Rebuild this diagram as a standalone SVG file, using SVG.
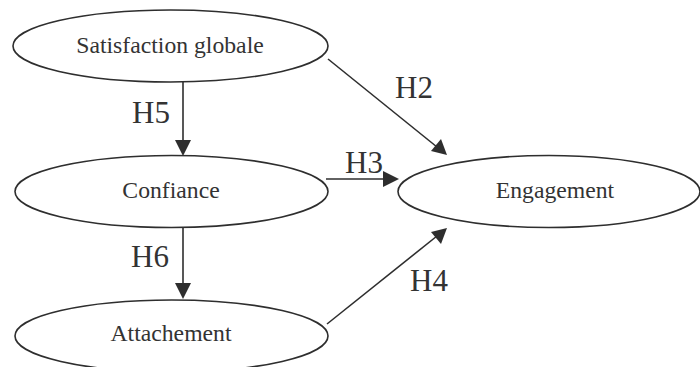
<svg xmlns="http://www.w3.org/2000/svg" width="700" height="367" viewBox="0 0 700 367">
<defs>
<style>
.node ellipse{fill:#fff;stroke:#2e2e2e;stroke-width:1.6}
.node text{font-family:"Liberation Serif","Times New Roman",serif;font-size:23.7px;fill:#333;text-anchor:middle}
.lbl{font-family:"Liberation Serif","Times New Roman",serif;font-size:31px;fill:#333}
#edges line{stroke:#2e2e2e;stroke-width:1.6}
#edges path{fill:#2e2e2e}
</style>
</defs>
<rect width="700" height="367" fill="#fff"/>
<g id="edges">
<line x1="183" y1="82" x2="183" y2="141"/>
<path d="M175,140 L191,140 L183,156 Z"/>
<line x1="183" y1="228" x2="183" y2="284"/>
<path d="M175,283 L191,283 L183,299 Z"/>
<line x1="328" y1="59" x2="437" y2="147"/>
<path d="M447,155 L431,151 L441,139 Z"/>
<line x1="326" y1="179" x2="384" y2="179"/>
<path d="M399,179 L383,171 L383,187 Z"/>
<line x1="327" y1="324" x2="437" y2="236"/>
<path d="M447,228 L441,244 L431,232 Z"/>
<text class="lbl" x="132" y="123">H5</text>
<text class="lbl" x="395" y="98">H2</text>
<text class="lbl" x="345" y="173">H3</text>
<text class="lbl" x="131" y="267">H6</text>
<text class="lbl" x="410" y="291">H4</text>
</g>
<g id="satisfaction" class="node">
<ellipse cx="170.5" cy="46" rx="157.5" ry="36"/>
<text x="170" y="53">Satisfaction globale</text>
</g>
<g id="confiance" class="node">
<ellipse cx="171.5" cy="191.5" rx="156.5" ry="36"/>
<text x="171" y="198">Confiance</text>
</g>
<g id="attachement" class="node">
<ellipse cx="171.5" cy="336" rx="156.5" ry="36"/>
<text x="171" y="341">Attachement</text>
</g>
<g id="engagement" class="node">
<ellipse cx="549" cy="191.5" rx="151" ry="36"/>
<text x="555" y="198">Engagement</text>
</g>
</svg>
